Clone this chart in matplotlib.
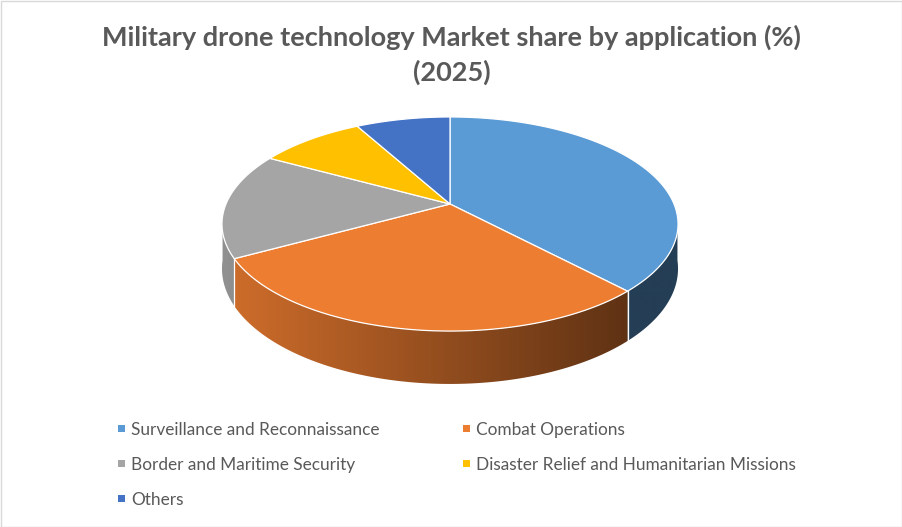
import numpy as np
import matplotlib
matplotlib.use("Agg")
import matplotlib.pyplot as plt
from matplotlib.patches import Polygon, Rectangle

# ---------------- data ----------------
categories = ["Surveillance and Reconnaissance", "Combat Operations",
              "Border and Maritime Security",
              "Disaster Relief and Humanitarian Missions", "Others"]
shares = [38, 29, 16, 9, 8]
colors = ["#5B9BD5", "#ED7D31", "#A5A5A5", "#FFC000", "#4472C4"]
title_line1 = "Military drone technology Market share by application (%)"
title_line2 = "(2025)"

# ---------------- figure ----------------
W, H = 902, 527
fig = plt.figure(figsize=(W / 100, H / 100), dpi=100)
ax = fig.add_axes([0, 0, 1, 1])
ax.set_xlim(0, W)
ax.set_ylim(H, 0)
ax.axis("off")

FONT = "Lato"
TXT = "#595959"

# 3D pie geometry (perspective-projected disc)
cx, cy = 450, 204
A, B, p = 224, 103.3, 0.187
h = 43


def top_pt(theta):
    t = np.radians(theta)
    u, v = np.sin(t), np.cos(t)
    w = 1 + p * v
    return cx + A * u / w, cy - B * v / w


def bot_pt(theta):
    t = np.radians(theta)
    v = np.cos(t)
    w = 1 + p * v
    x, y = top_pt(theta)
    return x, y + h / w


def shade(x):
    return np.clip(0.87 - (x - 230) * 0.47 / 398, 0.40, 0.90)


total = float(sum(shares))
bounds = np.concatenate([[0], np.cumsum(shares) / total * 360.0])

# visible (front) angular range of the side wall
th_r = np.degrees(np.arccos(-p)) - 4
th_l = 360 - th_r

xs_grad = np.linspace(200, 700, 501)
for i, col in enumerate(colors):
    a0, a1 = max(bounds[i], th_r), min(bounds[i + 1], th_l)
    if a1 <= a0:
        continue
    ts = np.linspace(a0, a1, max(3, int((a1 - a0) * 2)))
    top = [top_pt(t) for t in ts]
    bot = [bot_pt(t) for t in ts[::-1]]
    poly = Polygon(top + bot, closed=True, facecolor="none",
                   edgecolor="none", zorder=2)
    ax.add_patch(poly)
    base = np.array(matplotlib.colors.to_rgb(col))
    img = np.clip(base[None, None, :] * shade(xs_grad)[None, :, None], 0, 1)
    im = ax.imshow(img, extent=(200, 700, 400, 100), aspect="auto",
                   interpolation="bilinear", zorder=2)
    im.set_clip_path(poly)

ax.set_xlim(0, W)
ax.set_ylim(H, 0)

# white vertical edges at visible slice boundaries on the side
for b in bounds[1:-1]:
    if np.cos(np.radians(b)) < -p:
        x0, y0 = top_pt(b)
        x1, y1 = bot_pt(b)
        ax.plot([x0, x1], [y0, y1], color="white", lw=0.9, zorder=3)

# top faces
for i, col in enumerate(colors):
    a0, a1 = bounds[i], bounds[i + 1]
    ts = np.linspace(a0, a1, max(3, int((a1 - a0) * 2)))
    pts = [(cx, cy)] + [top_pt(t) for t in ts]
    ax.add_patch(Polygon(pts, closed=True, facecolor=col, edgecolor="white",
                         linewidth=0.9, joinstyle="round", zorder=4))

# ---------------- text ----------------
def fit(txt, target_w, size0):
    fig.canvas.draw()
    r = fig.canvas.get_renderer()
    w = txt.get_window_extent(renderer=r).width
    txt.set_fontsize(size0 * target_w / w)


t1 = ax.text(451.5, 46, title_line1, ha="center", va="baseline",
             fontsize=18, fontweight="bold", color=TXT, family=FONT)
fit(t1, 703, 18)
t2 = ax.text(451.5, 81, title_line2, ha="center", va="baseline",
             fontsize=t1.get_fontsize(), fontweight="bold", color=TXT,
             family=FONT)

# legend
leg_pos = [(118, 428), (463, 428), (118, 463), (463, 463), (118, 498)]
legend_texts = []
for (lx, ly), lab, col in zip(leg_pos, categories, colors):
    ax.add_patch(Rectangle((lx, ly - 3.5), 7, 7, facecolor=col,
                           edgecolor="none", zorder=5))
    tt = ax.text(lx + 13, ly + 0.5, lab, ha="left", va="center_baseline",
                 fontsize=11, color=TXT, family=FONT)
    legend_texts.append(tt)
fit(legend_texts[0], 249, 11)
for tt in legend_texts[1:]:
    tt.set_fontsize(legend_texts[0].get_fontsize())

# chart border
ax.add_patch(Rectangle((0.5, 0.5), W - 1, H - 1, facecolor="none",
                       edgecolor="#D9D9D9", linewidth=1.0, zorder=10))

fig.savefig("out.png", dpi=100, facecolor="white")
